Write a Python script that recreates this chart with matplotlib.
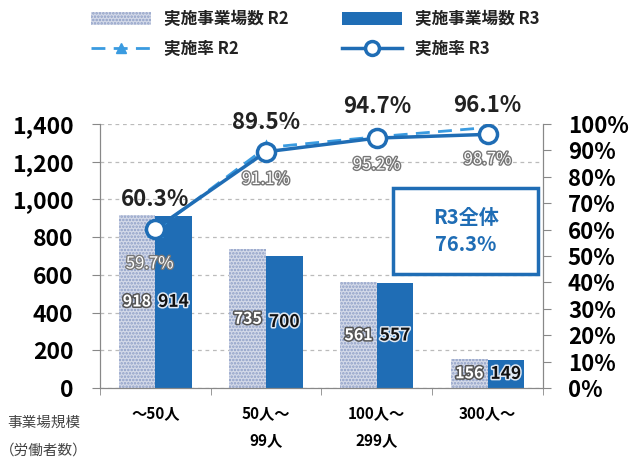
import numpy as np
import matplotlib.pyplot as plt
import matplotlib.patheffects as pe
from matplotlib.lines import Line2D
from matplotlib.patches import Patch, Rectangle

plt.rcParams['font.family'] = ['Noto Sans CJK JP', 'DejaVu Sans']
plt.rcParams['hatch.linewidth'] = 1.2

categories = ['～50人', '50人～\n99人', '100人～\n299人', '300人～']
count_r2 = [918, 735, 561, 156]
count_r3 = [914, 700, 557, 149]
rate_r2 = [59.7, 91.1, 95.2, 98.7]
rate_r3 = [60.3, 89.5, 94.7, 96.1]
overall_r3 = 76.3

blue = '#1f6db5'
light_blue = '#3a9be0'
r2_face = '#d3d9e8'
r2_hatch = '#8d9ec6'

fig = plt.figure(figsize=(6.32, 4.63), dpi=100)
ax = fig.add_axes([0.158, 0.162, 0.701, 0.570])
ax2 = ax.twinx()

x = np.arange(len(categories))
w = 0.33
b2 = ax.bar(x - w / 2, count_r2, w, color=r2_face, edgecolor=r2_hatch, lw=0, hatch='.....', zorder=2)
b3 = ax.bar(x + w / 2, count_r3, w, color=blue, lw=0, zorder=2)

for xi, v in zip(x, count_r2):
    ax.text(xi - w / 2, max(v * 0.5, 75), str(v), ha='center', va='center', fontsize=11.5,
            fontweight='bold', color='white', zorder=5,
            path_effects=[pe.withStroke(linewidth=2.2, foreground='#555555')])
for xi, v in zip(x, count_r3):
    ax.text(xi + w / 2, max(v * 0.5, 75), str(v), ha='center', va='center', fontsize=12.5,
            fontweight='bold', color='#111111', zorder=5,
            path_effects=[pe.withStroke(linewidth=2.2, foreground='#dfe8f3')])

ax.set_ylim(0, 1400)
ax.set_yticks(np.arange(0, 1401, 200))
ax.set_yticklabels([f'{v:,}' for v in range(0, 1401, 200)], fontsize=16.5, fontweight='bold')
ax.set_xlim(-0.5, 3.5)
ax.set_xticks(x)
ax.set_xticklabels(categories, fontsize=11, fontweight='bold', linespacing=1.9, va='top')
ax.tick_params(axis='x', length=0, pad=12)
ax.set_xticks(np.arange(-0.5, 4, 1), minor=True)
ax.tick_params(axis='x', which='minor', length=5, color='#888888', direction='out')
ax.tick_params(axis='y', length=6, color='#888888', pad=13)
ax.grid(axis='y', linestyle=(0, (3, 3)), color='#bbbbbb', lw=0.9, zorder=0)
for s in ['top']:
    ax.spines[s].set_visible(False)
    ax2.spines[s].set_visible(False)
for s in ['left', 'right', 'bottom']:
    ax.spines[s].set_color('#888888')
    ax2.spines[s].set_color('#888888')

ax2.set_ylim(0, 100)
ax2.set_yticks(np.arange(0, 101, 10))
ax2.set_yticklabels([f'{v}%' for v in range(0, 101, 10)], fontsize=16, fontweight='bold')
ax2.tick_params(axis='y', length=6, color='#888888', pad=12)

ax2.plot(x, rate_r2, color=light_blue, lw=2, linestyle=(0, (5, 3)), marker='^', ms=8,
         mfc='white', mec=light_blue, mew=2, zorder=4)
ax2.plot(x, rate_r3, color=blue, lw=2.5, marker='o', ms=13, mfc='white', mec=blue, mew=2.5, zorder=5)

r3_offsets = [11, 11, 12, 11]
for xi, v, dy in zip(x, rate_r3, r3_offsets):
    ax2.text(xi, v + dy, f'{v}%', ha='center', va='center', fontsize=16, fontweight='bold',
             color='#222222', zorder=6)
r2_pos = [47, 79, 84.5, 86.5]
for xi, v, yy in zip(x, rate_r2, r2_pos):
    ax2.text(xi - (0.05 if xi == 0 else 0), yy, f'{v}%', ha='center', va='center', fontsize=12,
             color='white', fontstyle='italic', zorder=6,
             path_effects=[pe.withStroke(linewidth=2, foreground='#777777')])

box = Rectangle((393 / 632, 1 - 274 / 463), 145 / 632, 86 / 463, transform=fig.transFigure,
                fill=True, facecolor='white', edgecolor=blue, lw=2.5, zorder=10)
fig.add_artist(box)
fig.text(466 / 632, 1 - 231 / 463, f'R3全体\n{overall_r3}%', ha='center', va='center',
         fontsize=14.5, fontweight='bold', color=blue, linespacing=1.3, zorder=11)

fig.text(44 / 632, 1 - 423 / 463, '事業場規模', ha='center', va='center', fontsize=10.5, color='#444444')
fig.text(44 / 632, 1 - 451 / 463, '（労働者数）', ha='center', va='center', fontsize=10.5, color='#444444')

h1 = Patch(facecolor=r2_face, edgecolor=r2_hatch, hatch='.....', lw=0)
h2 = Patch(facecolor=blue, lw=0)
h3 = Line2D([], [], color=light_blue, lw=2, linestyle=(0, (5, 3)), marker='^', ms=7,
            mfc=light_blue, mec=light_blue)
h4 = Line2D([], [], color=blue, lw=2.5, marker='o', ms=10, mfc='white', mec=blue, mew=2.5)
fig.legend([h1, h3, h2, h4], ['実施事業場数 R2', '実施率 R2', '実施事業場数 R3', '実施率 R3'],
           ncol=2, loc='upper left', bbox_to_anchor=(0.12, 1.01), frameon=False,
           prop={'size': 12, 'weight': 'bold'}, handlelength=3.6, handleheight=0.8,
           columnspacing=3.2, labelspacing=0.7, labelcolor='#222222')

fig.savefig('out.png', dpi=100)
